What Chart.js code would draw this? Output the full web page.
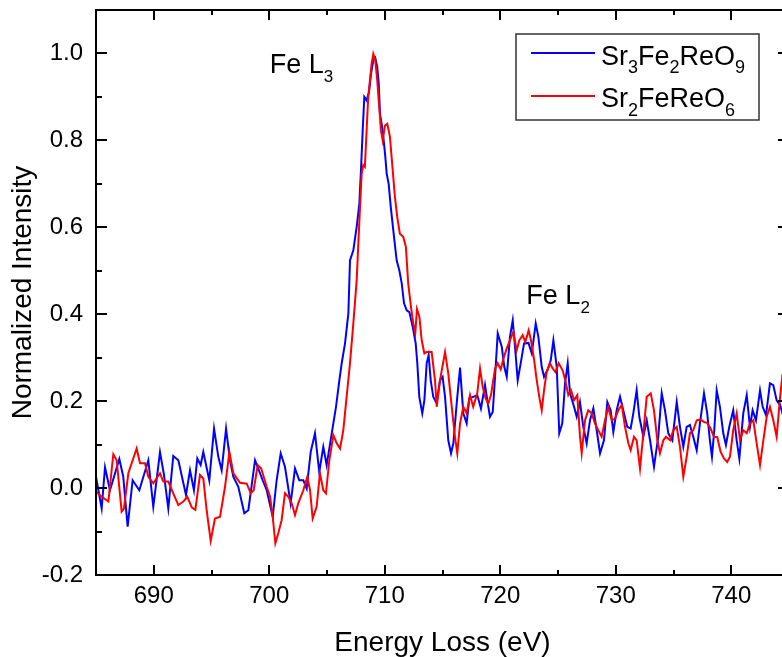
<!DOCTYPE html>
<html><head><meta charset="utf-8">
<script src="https://cdn.jsdelivr.net/npm/chart.js@4.4.0/dist/chart.umd.min.js"></script>
<style>
html,body{margin:0;padding:0;overflow:hidden;background:#fff;width:782px;height:657px}
#wrap{position:absolute;left:0;top:0;width:792px;height:657px}
</style>
</head><body><div id="wrap"><canvas id="c" width="792" height="657"></canvas></div>
<script>
// ---------- data ----------
const blueEnergy = [685.00,685.49,685.78,686.21,687.02,687.36,687.74,688.17,688.75,689.53,
689.96,690.54,690.89,691.26,691.69,692.13,692.79,693.14,693.48,693.77,
694.06,694.29,694.81,695.22,695.59,695.88,696.26,696.60,696.89,697.32,
697.84,698.19,698.77,699.05,699.43,699.78,700.30,700.64,700.99,701.36,
701.85,702.23,702.60,702.95,703.24,703.59,703.96,704.33,704.68,704.97,
705.41,705.78,706.07,706.27,706.56,706.85,706.99,707.28,707.57,707.80,
707.94,708.09,708.23,708.43,708.64,708.81,709.01,709.18,709.35,709.48,
709.59,709.82,710.05,710.17,710.34,710.52,710.74,711.03,711.26,711.47,
711.67,711.90,712.13,712.42,712.68,712.82,712.99,713.25,713.43,713.63,
713.80,713.98,714.20,714.49,714.78,715.01,715.22,715.50,715.74,715.94,
716.23,716.52,716.80,717.09,717.32,717.66,718.01,718.33,718.68,718.88,
719.11,719.35,719.55,719.78,720.13,720.35,720.56,720.84,721.08,721.28,
721.51,721.77,722.06,722.44,722.73,723.07,723.30,723.59,723.79,724.08,
724.37,724.60,724.89,725.11,725.37,725.61,725.84,726.04,726.39,726.62,
726.90,727.19,727.48,727.77,728.06,728.35,728.64,728.98,729.27,729.56,
729.79,730.08,730.37,730.65,731.00,731.29,731.52,731.81,732.04,732.39,
732.68,732.97,733.31,733.68,733.98,734.26,734.55,734.90,735.28,735.56,
735.85,736.14,736.42,736.71,737.01,737.29,737.64,737.92,738.15,738.33,
738.53,738.74,739.02,739.31,739.54,739.83,740.17,740.47,740.70,741.04,
741.34,741.62,741.85,742.14,742.49,742.72,743.01,743.35,743.64,743.93,
744.23,744.40,744.80];
const blueIntensity = [0.026,-0.047,0.048,-0.005,0.067,0.026,-0.089,0.018,-0.005,0.064,
-0.043,0.083,0.030,-0.047,0.074,0.064,-0.016,0.041,-0.005,0.068,
0.053,0.083,0.018,0.137,0.072,0.041,0.137,0.064,0.026,0.003,
-0.058,-0.051,0.064,0.045,0.018,-0.005,-0.066,0.018,0.080,0.049,
-0.035,0.045,0.018,0.018,-0.001,0.083,0.126,0.037,0.095,0.053,
0.126,0.187,0.248,0.287,0.333,0.402,0.524,0.547,0.601,0.654,
0.731,0.823,0.900,0.892,0.911,0.953,0.984,0.990,0.969,0.930,
0.861,0.823,0.762,0.723,0.700,0.647,0.593,0.524,0.501,0.471,
0.425,0.409,0.405,0.371,0.333,0.287,0.210,0.172,0.202,0.287,
0.306,0.248,0.210,0.195,0.248,0.256,0.210,0.110,0.080,0.103,
0.195,0.277,0.172,0.149,0.206,0.210,0.214,0.183,0.237,0.202,
0.164,0.175,0.256,0.356,0.325,0.279,0.256,0.348,0.386,0.325,
0.248,0.287,0.333,0.334,0.310,0.379,0.348,0.279,0.256,0.271,
0.294,0.340,0.279,0.126,0.149,0.241,0.287,0.218,0.187,0.164,
0.198,0.141,0.103,0.156,0.183,0.133,0.080,0.110,0.198,0.179,
0.129,0.179,0.210,0.179,0.141,0.137,0.172,0.225,0.164,0.118,
0.156,0.110,0.049,0.118,0.218,0.179,0.126,0.110,0.198,0.141,
0.095,0.141,0.145,0.118,0.087,0.149,0.218,0.172,0.110,0.072,
0.133,0.225,0.187,0.126,0.099,0.141,0.179,0.110,0.068,0.172,
0.214,0.141,0.179,0.156,0.225,0.187,0.168,0.241,0.237,0.202,
0.191,0.175,0.200];

const redEnergy = [685.00,685.49,686.07,686.50,686.79,687.22,687.42,687.80,688.52,688.81,
689.24,689.53,689.96,690.54,690.83,691.26,691.69,692.13,692.56,692.90,
693.30,693.60,694.00,694.29,694.58,694.93,695.30,695.74,696.17,696.55,
696.89,697.47,698.05,698.40,698.65,699.00,699.30,699.78,700.07,700.30,
700.53,700.78,701.07,701.36,701.65,701.94,702.23,702.51,702.95,703.29,
703.53,703.76,704.10,704.39,704.68,704.91,705.20,705.55,705.84,706.13,
706.41,706.70,706.99,707.28,707.57,707.71,707.86,708.00,708.14,708.28,
708.43,708.57,708.86,709.01,709.18,709.35,709.52,709.67,709.82,710.02,
710.22,710.45,710.69,710.88,711.08,711.31,711.60,711.83,712.03,712.27,
712.47,712.64,712.79,713.00,713.20,713.43,713.62,714.06,714.35,714.50,
714.78,715.22,715.50,715.80,716.08,716.28,716.52,716.80,717.09,717.38,
717.66,718.01,718.25,718.48,718.74,718.97,719.20,719.55,719.78,720.04,
720.32,720.61,720.90,721.13,721.42,721.65,721.94,722.17,722.46,722.66,
722.92,723.16,723.38,723.59,723.79,724.02,724.31,724.54,724.77,725.06,
725.40,725.63,725.89,726.13,726.39,726.67,726.90,727.05,727.34,727.62,
727.92,728.20,728.49,728.78,729.07,729.35,729.65,729.94,730.22,730.52,
730.80,731.09,731.29,731.58,731.81,732.10,732.39,732.68,733.03,733.31,
733.60,733.83,734.12,734.35,734.70,734.98,735.28,735.56,735.85,736.14,
736.42,736.71,737.01,737.35,737.64,737.92,738.21,738.50,738.79,739.08,
739.37,739.65,739.89,740.17,740.47,740.76,741.04,741.34,741.62,741.91,
742.20,742.49,742.78,743.07,743.35,743.64,743.93,744.23,744.40,744.80];
const redIntensity = [-0.008,-0.020,-0.031,0.078,0.064,-0.054,-0.047,0.034,0.091,0.057,
0.057,0.026,0.011,0.034,0.015,0.015,-0.012,-0.039,-0.031,-0.020,
-0.045,-0.050,0.030,0.022,-0.051,-0.121,-0.070,-0.066,0.003,0.083,
0.034,0.012,0.010,-0.012,-0.005,0.053,0.045,0.003,-0.020,-0.066,
-0.127,-0.104,-0.074,-0.012,-0.020,-0.035,-0.062,-0.035,-0.005,0.026,
-0.005,-0.070,-0.043,0.034,-0.005,-0.012,0.064,0.122,0.103,0.091,
0.133,0.210,0.287,0.379,0.478,0.562,0.647,0.723,0.743,0.739,
0.823,0.900,0.976,0.999,0.984,0.938,0.877,0.823,0.800,0.834,
0.838,0.808,0.731,0.670,0.624,0.585,0.578,0.555,0.471,0.417,
0.379,0.356,0.412,0.394,0.340,0.310,0.313,0.313,0.248,0.187,
0.248,0.313,0.264,0.187,0.118,0.080,0.149,0.187,0.172,0.214,
0.187,0.218,0.275,0.233,0.206,0.195,0.214,0.275,0.287,0.273,
0.302,0.325,0.344,0.359,0.317,0.340,0.352,0.336,0.363,0.340,
0.298,0.248,0.210,0.179,0.225,0.267,0.287,0.275,0.267,0.287,
0.271,0.248,0.214,0.225,0.202,0.214,0.120,0.080,0.156,0.179,
0.172,0.149,0.133,0.118,0.156,0.186,0.156,0.160,0.179,0.191,
0.141,0.103,0.087,0.118,0.110,0.045,0.126,0.210,0.218,0.179,
0.110,0.080,0.110,0.118,0.110,0.133,0.141,0.095,0.026,0.072,
0.126,0.133,0.156,0.158,0.152,0.150,0.137,0.118,0.117,0.083,
0.068,0.060,0.072,0.133,0.172,0.110,0.133,0.126,0.149,0.156,
0.103,0.053,0.110,0.164,0.187,0.156,0.118,0.210,0.252,0.220];

const xTickValues = [690,700,710,720,730,740];
const xMinorValues = [695,705,715,725,735];
const yTickValues = [-0.2,0.0,0.2,0.4,0.6,0.8,1.0];
const yMinorValues = [-0.1,0.1,0.3,0.5,0.7,0.9];
const xTitle = 'Energy Loss (eV)';
const yTitle = 'Normalized Intensity';
// legend labels as [text, isSubscript] parts
const blueName = [['Sr',0],['3',1],['Fe',0],['2',1],['ReO',0],['9',1]];
const redName  = [['Sr',0],['2',1],['FeReO',0],['6',1]];
// peak labels: [parts, energy, intensity of baseline]
const peakLabels = [
  [[['Fe L',0],['3',1]], 700.04, 0.956],
  [[['Fe L',0],['2',1]], 722.26, 0.423]
];

// ---------- drawing ----------
const FONT = "'Liberation Sans', Arial, Helvetica, sans-serif";
const toPts = (xs, ys) => xs.map((e, i) => ({x: e, y: ys[i]}));

function drawRich(ctx, parts, x, y, mainSize, subSize, subDrop) {
  let cx = x;
  for (const [t, sub] of parts) {
    ctx.font = (sub ? subSize : mainSize) + 'px ' + FONT;
    ctx.fillText(t, cx, sub ? y + subDrop : y);
    cx += ctx.measureText(t).width;
  }
}

const framePlugin = {
  id: 'frame',
  afterDraw(chart) {
    const {ctx, chartArea: a, scales: {x, y}} = chart;
    ctx.save();
    ctx.strokeStyle = '#000';
    ctx.lineWidth = 2;
    ctx.strokeRect(a.left, a.top, a.right - a.left, a.bottom - a.top);
    ctx.beginPath();
    const xt = (vals, len) => vals.forEach(v => {
      const p = Math.round(x.getPixelForValue(v));
      ctx.moveTo(p, a.bottom); ctx.lineTo(p, a.bottom - len);
      ctx.moveTo(p, a.top); ctx.lineTo(p, a.top + len);
    });
    const yt = (vals, len) => vals.forEach(v => {
      const p = Math.round(y.getPixelForValue(v));
      ctx.moveTo(a.left, p); ctx.lineTo(a.left + len, p);
      ctx.moveTo(a.right, p); ctx.lineTo(a.right - len, p);
    });
    xt(xTickValues, 10); xt(xMinorValues, 5);
    yt(yTickValues, 11); yt(yMinorValues, 6);
    ctx.stroke();

    // legend
    ctx.lineWidth = 1.5;
    ctx.strokeStyle = '#333';
    ctx.strokeRect(516, 34, 243, 86);
    ctx.lineWidth = 2;
    ctx.strokeStyle = '#0000ff';
    ctx.beginPath(); ctx.moveTo(531, 53); ctx.lineTo(595, 53); ctx.stroke();
    ctx.strokeStyle = '#ff0000';
    ctx.beginPath(); ctx.moveTo(531, 96); ctx.lineTo(595, 96); ctx.stroke();
    ctx.fillStyle = '#000';
    ctx.textBaseline = 'alphabetic';
    ctx.textAlign = 'left';
    drawRich(ctx, blueName, 601, 65, 27, 18, 8);
    drawRich(ctx, redName, 601, 107, 27, 18, 9);

    // peak labels
    for (const [parts, e, v] of peakLabels) {
      drawRich(ctx, parts, x.getPixelForValue(e), y.getPixelForValue(v), 27, 17, 9);
    }
    ctx.restore();
  }
};

new Chart(document.getElementById('c'), {
  type: 'line',
  data: {
    datasets: [
      {label: 'Sr2FeReO6', data: toPts(redEnergy, redIntensity), borderColor: '#ff0000',
       borderWidth: 2, pointRadius: 0, tension: 0, fill: false, order: 1},
      {label: 'Sr3Fe2ReO9', data: toPts(blueEnergy, blueIntensity), borderColor: '#0000ff',
       borderWidth: 2, pointRadius: 0, tension: 0, fill: false, order: 2}
    ]
  },
  options: {
    responsive: false,
    animation: false,
    devicePixelRatio: 1,
    parsing: false,
    layout: {padding: {left: 0, top: 10, right: 3, bottom: 0}},
    plugins: {legend: {display: false}, tooltip: {enabled: false}},
    scales: {
      x: {
        type: 'linear', min: 685, max: 745,
        grid: {display: false, drawTicks: false, tickLength: 0},
        border: {display: false},
        afterBuildTicks: s => { s.ticks = xTickValues.map(v => ({value: v})); },
        afterFit: s => { s.height = 82; s.paddingLeft = 0; s.paddingRight = 0; s.paddingTop = 0; s.paddingBottom = 0; },
        ticks: {font: {family: FONT, size: 24}, color: '#000', padding: 7,
                maxRotation: 0, autoSkip: false, callback: v => String(v)},
        title: {display: true, text: xTitle, color: '#000',
                font: {family: FONT, size: 28, lineHeight: 1}, padding: {top: 0, bottom: 0}}
      },
      y: {
        type: 'linear', min: -0.2, max: 1.1,
        grid: {display: false, drawTicks: false, tickLength: 0},
        border: {display: false},
        afterBuildTicks: s => { s.ticks = yTickValues.map(v => ({value: v})); },
        afterFit: s => { s.width = 96; s.paddingLeft = 0; s.paddingRight = 0; s.paddingTop = 0; s.paddingBottom = 0; },
        ticks: {font: {family: FONT, size: 24}, color: '#000', padding: 13,
                autoSkip: false, callback: v => Number(v).toFixed(1)},
        title: {display: true, text: yTitle, color: '#000',
                font: {family: FONT, size: 28, lineHeight: 1}, padding: {top: 9, bottom: 0}}
      }
    }
  },
  plugins: [framePlugin]
});
</script>
</body></html>
